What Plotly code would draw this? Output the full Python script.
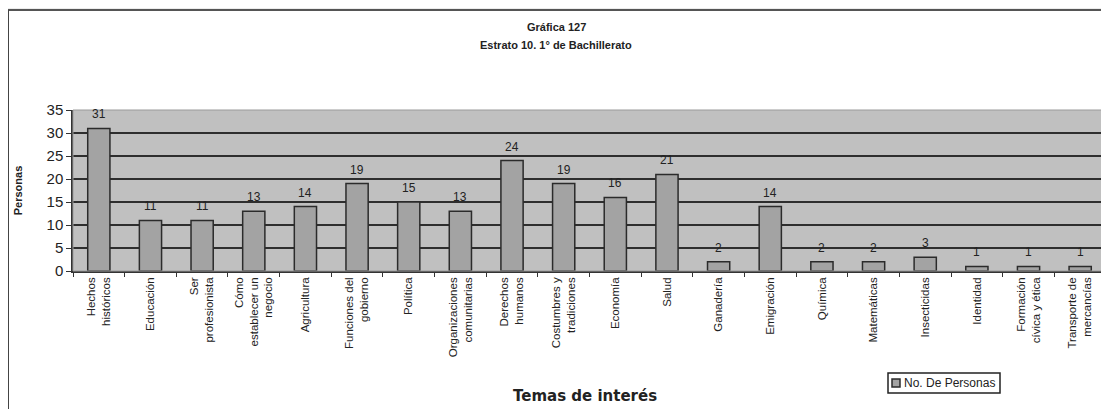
import plotly.graph_objects as go

# Data
temas = [
    "Hechos<br>históricos",
    "Educación",
    "Ser<br>profesionista",
    "Cómo<br>establecer un<br>negocio",
    "Agricultura",
    "Funciones del<br>gobierno",
    "Política",
    "Organizaciones<br>comunitarias",
    "Derechos<br>humanos",
    "Costumbres y<br>tradiciones",
    "Economía",
    "Salud",
    "Ganadería",
    "Emigración",
    "Química",
    "Matemáticas",
    "Insecticidas",
    "Identidad",
    "Formación<br>cívica y ética",
    "Transporte de<br>mercancías",
]
personas = [31, 11, 11, 13, 14, 19, 15, 13, 24, 19, 16, 21, 2, 14, 2, 2, 3, 1, 1, 1]
y_ticks = [0, 5, 10, 15, 20, 25, 30, 35]
serie = "No. De Personas"

# the html page puts the figure 8px from the top-left corner
OFF = 8
W, H = 1109 - OFF, 409 - OFF
L, R, T, B = 73 - OFF, 3, 110 - OFF, 138
pw, ph = W - L - R, H - T - B


def px_x(x):
    # x in reference pixels -> paper
    return (x - OFF - L) / pw


def px_y(y):
    return (H - B - (y - OFF)) / ph


def label(text, x, y, size, family="Liberation Sans", xanchor="center"):
    fig.add_annotation(text=text, xref="paper", yref="paper",
                       x=px_x(x), y=px_y(y), xanchor=xanchor, yanchor="middle",
                       showarrow=False,
                       font=dict(family=family, size=size, color="#222"))


fig = go.Figure()
fig.add_trace(
    go.Bar(
        x=temas,
        y=personas,
        name=serie,
        marker=dict(color="#a3a3a3", line=dict(color="#2b2b2b", width=1.5)),
        showlegend=False,
    )
)

# value labels a bit higher above the bars than plotly's default
for tema, n in zip(temas, personas):
    fig.add_annotation(x=tema, y=n, text=str(n), showarrow=False,
                       yanchor="middle", yshift=14,
                       font=dict(family="Liberation Sans", size=12, color="#222"))

# outer frame of the original image
fig.add_shape(type="rect", xref="paper", yref="paper",
              x0=px_x(-5), x1=px_x(W + 20), y0=px_y(-5), y1=px_y(9),
              fillcolor="#ececec", line=dict(width=0), layer="below")
fig.add_shape(type="line", xref="paper", yref="paper",
              x0=px_x(7), x1=px_x(W + 20), y0=px_y(10), y1=px_y(10),
              line=dict(color="#555", width=2))
fig.add_shape(type="line", xref="paper", yref="paper",
              x0=px_x(8), x1=px_x(8), y0=px_y(10), y1=px_y(H + 20),
              line=dict(color="#444", width=2))
# light border on top/right of plot area
fig.add_shape(type="rect", xref="paper", yref="paper",
              x0=0, x1=1, y0=0, y1=1, line=dict(color="#9a9a9a", width=1))

# legend box, drawn by hand to keep it as compact as the original
fig.add_shape(type="rect", xref="paper", yref="paper",
              x0=px_x(888), x1=px_x(1000), y0=px_y(393), y1=px_y(373),
              fillcolor="white", line=dict(color="#222", width=1.5))
fig.add_shape(type="rect", xref="paper", yref="paper",
              x0=px_x(892), x1=px_x(900), y0=px_y(387), y1=px_y(379),
              fillcolor="#a3a3a3", line=dict(color="#2b2b2b", width=1.5))
label(serie, 902, 383, 12, xanchor="left")

label("<b>Gráfica 127</b>", 556, 27, 11, "Liberation Sans Narrow, Liberation Sans")
label("<b>Estrato 10. 1° de Bachillerato</b>", 556, 45, 11, "Liberation Sans Narrow, Liberation Sans")
label("<b>Temas de interés</b>", 585, 396, 15, "DejaVu Sans")

fig.update_layout(
    width=W,
    height=H,
    margin=dict(l=L, r=R, t=T, b=B),
    paper_bgcolor="white",
    plot_bgcolor="#c0c0c0",
    bargap=0.57,
    showlegend=False,
    xaxis=dict(
        tickangle=-90,
        tickfont=dict(family="Liberation Sans", size=11.5, color="#222"),
        ticks="outside", ticklen=4, tickcolor="#333", tickson="boundaries",
        showline=True, linecolor="#333", linewidth=1.5,
        showgrid=False,
        automargin=False,
    ),
    yaxis=dict(
        range=[0, 35],
        tickvals=y_ticks,
        tickfont=dict(family="Liberation Sans", size=15, color="#222"),
        ticks="outside", ticklen=5, tickcolor="#333",
        showline=True, linecolor="#333", linewidth=1.5,
        showgrid=True, gridcolor="#2e2e2e", gridwidth=1.5,
        zeroline=False,
        title=dict(text="<b>Personas</b>", standoff=22,
                   font=dict(family="Liberation Sans", size=11, color="#222")),
        automargin=False,
    ),
)

fig.write_html("out.html")
